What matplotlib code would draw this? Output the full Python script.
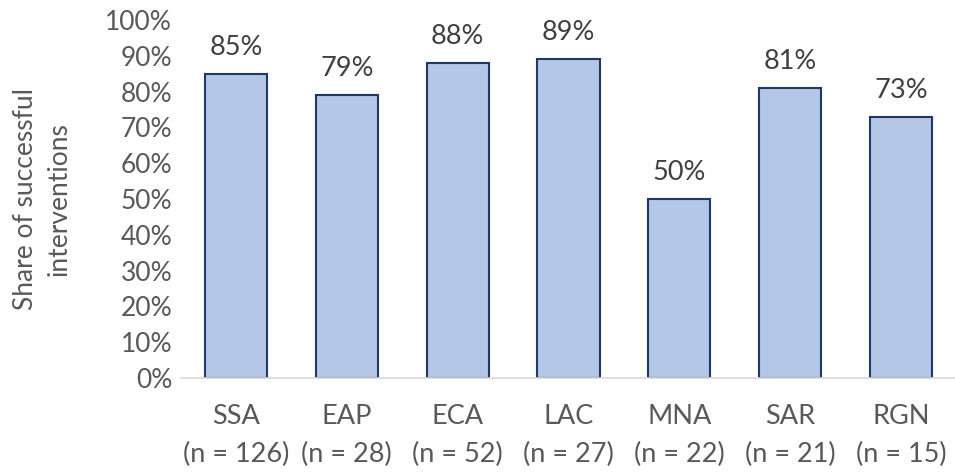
import matplotlib
matplotlib.use("Agg")
import matplotlib.pyplot as plt
from matplotlib.ticker import PercentFormatter, MultipleLocator

plt.rcParams['font.family'] = ['Lato', 'DejaVu Sans']

regions = ["SSA", "EAP", "ECA", "LAC", "MNA", "SAR", "RGN"]
counts = [126, 28, 52, 27, 22, 21, 15]
success_share = [85, 79, 88, 89, 50, 81, 73]

text_color = "#595959"
bar_fill = "#B4C7E7"
bar_edge = "#1F3864"

fig = plt.figure(figsize=(9.55, 4.74), dpi=100)
ax = fig.add_axes([180.5 / 955, 1 - 378 / 474, (956.5 - 180.5) / 955, (378 - 20) / 474])

x = range(len(regions))
bars = ax.bar(x, success_share, width=0.56, color=bar_fill, edgecolor=bar_edge, linewidth=1.5)

for rect, v in zip(bars, success_share):
    ax.annotate(f"{v}%", (rect.get_x() + rect.get_width() / 2, rect.get_height()),
                xytext=(0, 10), textcoords="offset points", ha="center", va="bottom",
                fontsize=19.5, color="#404040")

ax.set_xlim(-0.5, len(regions) - 0.5)
ax.set_ylim(0, 100)
ax.yaxis.set_major_locator(MultipleLocator(10))
ax.yaxis.set_major_formatter(PercentFormatter(decimals=0))
ax.set_xticks(list(x))
ax.set_xticklabels([f"{r}\n(n = {n})" for r, n in zip(regions, counts)], linespacing=1.6)
ax.tick_params(axis="both", length=0, labelcolor=text_color)
ax.tick_params(axis="x", pad=19, labelsize=19.5)
ax.tick_params(axis="y", pad=6, labelsize=19)

for side in ("top", "right", "left"):
    ax.spines[side].set_visible(False)
ax.spines["bottom"].set_color("#D9D9D9")
ax.spines["bottom"].set_linewidth(1.2)

ax.set_ylabel("Share of successful\ninterventions", fontsize=19, color=text_color, linespacing=1.45)
ax.yaxis.set_label_coords(-0.14, 0.5)

fig.savefig("out.png", dpi=100)
